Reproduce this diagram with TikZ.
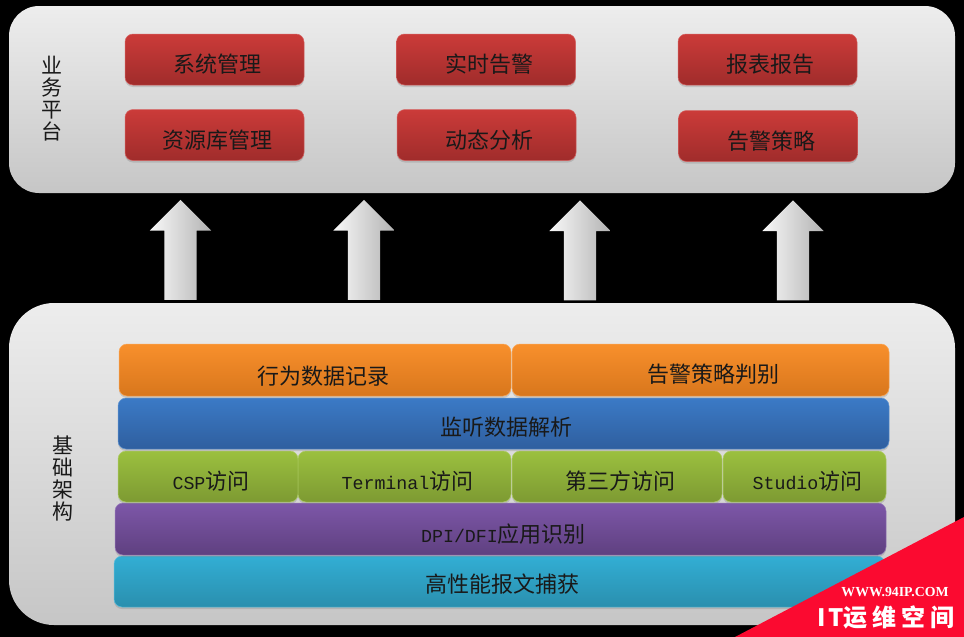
\documentclass[tikz,border=0pt]{standalone}
\usepackage{fontspec}
\usetikzlibrary{shapes.arrows,shadows}
\setmainfont{Noto Sans CJK SC}
\newfontfamily\latinmono{Liberation Mono}
\newfontfamily\siteface{Liberation Serif}
\newcommand{\mono}[1]{{\fontsize{18.3}{22}\latinmono #1}}

\definecolor{panel1}{HTML}{EDEDED}\definecolor{panel2}{HTML}{C6C6C6}
\definecolor{red1}{HTML}{CB3B39}\definecolor{red2}{HTML}{A02C2B}
\definecolor{orange1}{HTML}{F8902C}\definecolor{orange2}{HTML}{D8761C}
\definecolor{blue1}{HTML}{3B7AC6}\definecolor{blue2}{HTML}{2F5F9F}
\definecolor{green1}{HTML}{9BC03F}\definecolor{green2}{HTML}{7D9A32}
\definecolor{purple1}{HTML}{7D57A8}\definecolor{purple2}{HTML}{5F4080}
\definecolor{cyan1}{HTML}{32AED4}\definecolor{cyan2}{HTML}{2A8FAE}
\definecolor{cornerred}{HTML}{FB0A30}

\tikzset{
 panel/.style={rectangle, inner sep=0pt, top color=panel1, bottom color=panel2},
 tier/.style n args={2}{rectangle, rounded corners=8pt, draw=#1!80!white, line width=0.5pt, top color=#1, bottom color=#2, text=black!90,
  font=\fontsize{22}{22}\selectfont, inner sep=0pt, text height=26pt, text depth=0pt, execute at begin node={\hspace*{6pt}},
  drop shadow={opacity=0.3, shadow xshift=0pt, shadow yshift=-2pt}},
 redbox/.style={tier={red1}{red2}, minimum width=179pt, minimum height=51pt},
 orangebox/.style={tier={orange1}{orange2}, minimum height=52pt},
 bluebox/.style={tier={blue1}{blue2}, minimum height=51pt, text height=24pt},
 greenbox/.style={tier={green1}{green2}, minimum height=51pt, text height=25pt},
 purplebox/.style={tier={purple1}{purple2}, minimum height=52pt, text height=27pt},
 cyanbox/.style={tier={cyan1}{cyan2}, minimum height=51pt, text height=21pt},
 uparrow/.style={single arrow, rotate=90, single arrow tip angle=90, single arrow head extend=14.5pt, minimum height=100pt, minimum width=61pt,
  inner xsep=0pt, inner ysep=16pt, left color=gray!5, right color=gray!60},
 sidelabel/.style={align=center, inner sep=0pt, text=black!90, font=\fontsize{21}{22}\selectfont}
}

\begin{document}
\begin{tikzpicture}[x=1pt, y=-1pt]
 \fill[black] (0,0) rectangle (964,637);
 \useasboundingbox (0,0) rectangle (964,637);

 % the two panels
 \node[panel, rounded corners=30pt, minimum width=946pt, minimum height=187pt] (platform) at (482,99.5) {};
 \node[panel, rounded corners=45pt, minimum width=946pt, minimum height=322pt] (base) at (482,464) {};
 \node[sidelabel] (platformlabel) at (52,98.5) {业\\务\\平\\台};
 \node[sidelabel] (baselabel) at (63,478.5) {基\\础\\架\\构};

 \node[redbox] (sysmgmt) at (214.5,59.5) {系统管理};
 \node[redbox] (alarm) at (486,59.5) {实时告警};
 \node[redbox] (report) at (767.5,59.5) {报表报告};
 \node[redbox] (resmgmt) at (214.5,135) {资源库管理};
 \node[redbox] (dynamic) at (486.5,135) {动态分析};
 \node[redbox] (policy) at (768,136) {告警策略};

 % arrows between the panels
 \node[uparrow] (up1) at (180.5,258) {};
 \node[uparrow] (up2) at (364,258) {};
 \node[uparrow] (up3) at (580,258.5) {};
 \node[uparrow] (up4) at (793,258.5) {};

 \node[cyanbox, minimum width=771pt] (capture) at (499.5,581.5) {高性能报文捕获};
 \node[purplebox, minimum width=771pt] (dpi) at (500.5,529) {\mono{DPI/DFI}应用识别};
 \node[greenbox, minimum width=180pt] (csp) at (208,476.5) {\mono{CSP}访问};
 \node[greenbox, minimum width=213pt] (terminal) at (404.5,476.5) {\mono{Terminal}访问};
 \node[greenbox, minimum width=210pt] (third) at (617,476.5) {第三方访问};
 \node[greenbox, minimum width=163pt] (studio) at (804.5,476.5) {\mono{Studio}访问};
 \node[bluebox, minimum width=771pt] (parse) at (503.5,423.5) {监听数据解析};
 \node[orangebox, minimum width=392pt, text height=29pt, execute at begin node={\hspace*{10pt}}] (record) at (315,370) {行为数据记录};
 \node[orangebox, minimum width=377pt, text height=25pt, execute at begin node={\hspace*{19pt}}] (judge) at (700.5,370) {告警策略判别};

 % corner badge
 \fill[cornerred] (964,517) -- (735,637) -- (964,637) -- cycle;
 \node[text=white, inner sep=0pt, font=\fontsize{13.8}{14}\siteface\bfseries] (site) at (895,592) {WWW.94IP.COM};
 \node[text=white, inner sep=0pt, font=\fontsize{24}{24}\selectfont\bfseries] (brand) at (886,617) {I\hspace{3pt}T运\hspace{5pt}维\hspace{5pt}空\hspace{5pt}间};
\end{tikzpicture}
\end{document}
